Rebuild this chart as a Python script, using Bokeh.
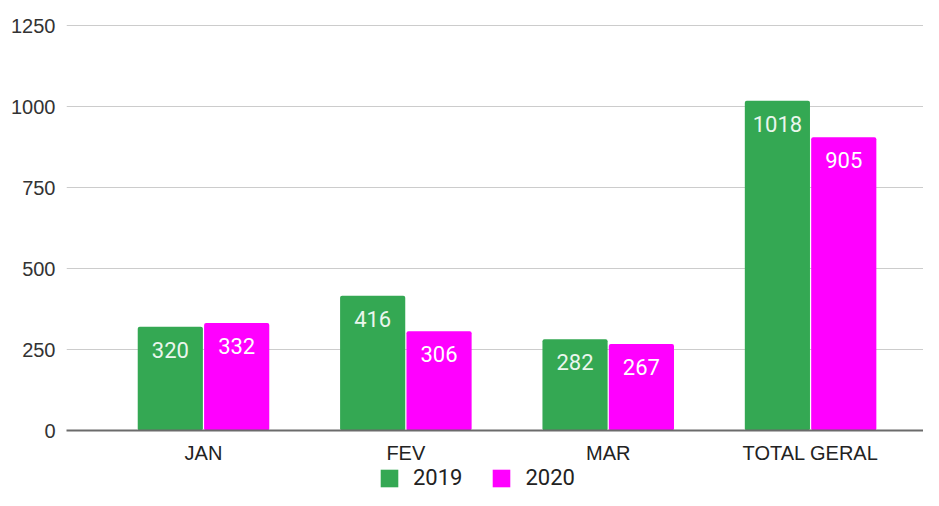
from bokeh.plotting import figure
from bokeh.layouts import column
from bokeh.models import Range1d, FixedTicker, Legend, LegendItem, ColumnDataSource, VBar
from bokeh.transform import dodge
from bokeh.core.properties import value
from bokeh.embed import file_html
from bokeh.resources import INLINE

categories = ["JAN", "FEV", "MAR", "TOTAL GERAL"]
v2019 = [320, 416, 282, 1018]
v2020 = [332, 306, 267, 905]
yticks = [0, 250, 500, 750, 1000, 1250]
series_names = ["2019", "2020"]
colors = ["#34a853", "#ff00ff"]

idx = list(range(len(categories)))
src = ColumnDataSource(dict(
    x=idx, a=v2019, b=v2020,
    la=[str(v) for v in v2019], lb=[str(v) for v in v2020],
))

p = figure(width=923, height=466,
           x_range=Range1d(-0.677, 3.558), y_range=Range1d(0, 1253.1),
           output_backend="svg", toolbar_location=None,
           min_border_left=66, min_border_right=0,
           min_border_top=24, min_border_bottom=36)
p.outline_line_color = None
p.background_fill_color = "white"

extra = {}
if "border_radius" in VBar.properties():
    extra["border_radius"] = 2

r1 = p.vbar(x=dodge("x", -0.164), top="a", width=0.322, source=src,
            fill_color=colors[0], line_color=None, **extra)
r2 = p.vbar(x=dodge("x", 0.164), top="b", width=0.322, source=src,
            fill_color=colors[1], line_color=None, **extra)

p.text(x=dodge("x", -0.164), y="a", text="la", source=src,
       text_align="center", text_baseline="middle", y_offset=23,
       text_font=value("Roboto"), text_font_size="22px", text_color="#eaf6ed")
p.text(x=dodge("x", 0.164), y="b", text="lb", source=src,
       text_align="center", text_baseline="middle", y_offset=23,
       text_font=value("Roboto"), text_font_size="22px", text_color="#ffffff")

p.xgrid.visible = False
p.ygrid.ticker = FixedTicker(ticks=yticks)
p.ygrid.grid_line_color = "#cccccc"
p.ygrid.grid_line_width = 1

p.yaxis.ticker = FixedTicker(ticks=yticks)
p.yaxis.axis_line_color = None
p.yaxis.major_tick_line_color = None
p.yaxis.minor_tick_line_color = None
p.yaxis.major_tick_out = 0
p.yaxis.major_tick_in = 0
p.yaxis.major_label_standoff = 11
p.yaxis.major_label_text_font = "Liberation Sans"
p.yaxis.major_label_text_font_size = "20px"
p.yaxis.major_label_text_color = "#333333"

p.xaxis.ticker = FixedTicker(ticks=idx)
p.xaxis.major_label_overrides = {i: c for i, c in zip(idx, categories)}
p.xaxis.axis_line_color = "#6b6b6b"
p.xaxis.axis_line_width = 2
p.xaxis.major_tick_line_color = None
p.xaxis.minor_tick_line_color = None
p.xaxis.major_tick_out = 0
p.xaxis.major_tick_in = 0
p.xaxis.major_label_standoff = 11
p.xaxis.major_label_text_font = "Liberation Sans"
p.xaxis.major_label_text_font_size = "20px"
p.xaxis.major_label_text_color = "#222222"

# legend strip below the chart; its bars share the data but lie outside its view
leg = figure(width=923, height=24, x_range=Range1d(-0.677, 3.558),
             y_range=Range1d(2000, 2001),
             output_backend="svg", toolbar_location=None,
             min_border_left=66, min_border_right=0,
             min_border_top=0, min_border_bottom=0)
leg.axis.visible = False
leg.grid.visible = False
leg.outline_line_color = None
g1 = leg.vbar(x=dodge("x", -0.164), top="a", width=0.322, source=src,
              fill_color=colors[0], line_color=None)
g2 = leg.vbar(x=dodge("x", 0.164), top="b", width=0.322, source=src,
              fill_color=colors[1], line_color=None)

legend = Legend(items=[LegendItem(label=series_names[0], renderers=[g1]),
                       LegendItem(label=series_names[1], renderers=[g2])],
                location=(312, 0), orientation="horizontal",
                padding=0, margin=0, spacing=28, label_standoff=13,
                glyph_width=22, glyph_height=22, label_height=20,
                border_line_color=None, background_fill_alpha=0,
                label_text_font="Roboto", label_text_font_size="22px",
                label_text_color="#222222")
leg.add_layout(legend, "center")

layout = column(p, leg, spacing=0)
open("out.html", "w").write(file_html(layout, INLINE))
